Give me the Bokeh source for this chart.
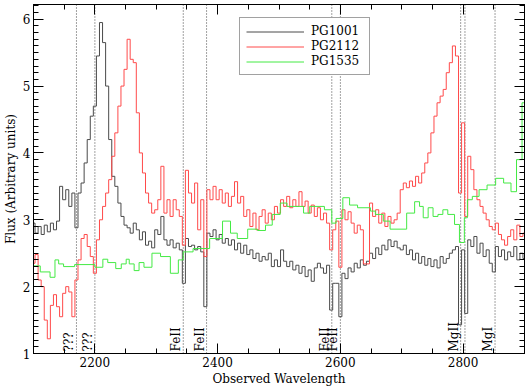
import numpy as np
from bokeh.plotting import figure
from bokeh.models import Range1d, LinearAxis, SingleIntervalTicker, CustomLabelingPolicy
from bokeh.core.properties import value
from bokeh.embed import file_html
from bokeh.resources import INLINE

# ---------------- data ----------------
wave = np.arange(2100, 2901, 5)  # 5 A sampling, 2100..2900

pg1001 = [
    2.95, 2.80, 2.90, 2.78, 2.92, 2.82, 2.95, 2.85, 2.98, 3.50,
    3.30, 3.45, 3.20, 3.40, 2.88, 3.40, 3.55, 3.85, 4.20, 4.55,
    4.70, 5.45, 5.95, 5.65, 5.00, 4.20, 3.65, 3.50, 3.25, 3.05,
    2.92, 2.88, 2.80, 2.95, 2.85, 2.70, 2.82, 2.62, 2.68, 2.58,
    2.85, 2.78, 3.05, 2.70, 2.62, 2.70, 2.58, 2.65, 2.55, 2.05,
    2.72, 2.60, 2.62, 2.55, 2.60, 2.52, 1.70, 2.80, 2.75, 2.85,
    2.70, 2.78, 2.65, 2.72, 2.62, 2.70, 2.55, 2.65, 2.50, 2.62,
    2.48, 2.55, 2.42, 2.50, 2.38, 2.45, 2.40, 2.50, 2.30, 2.40,
    2.30, 2.55, 2.38, 2.30, 2.38, 2.25, 2.32, 2.20, 2.30, 2.15,
    2.25, 2.08, 2.28, 2.35, 2.28, 2.20, 2.32, 1.65, 2.05, 2.05,
    1.55, 2.20, 2.12, 2.28, 2.22, 2.35, 2.28, 2.40, 2.32, 2.38,
    2.50, 2.42, 2.58, 2.48, 2.62, 2.55, 2.70, 2.60, 2.68, 2.58,
    2.55, 2.62, 2.48, 2.55, 2.40, 2.50, 2.35, 2.45, 2.32, 2.42,
    2.30, 2.40, 2.28, 2.45, 2.35, 2.42, 2.50, 2.55, 2.60, 1.43,
    2.55, 1.60, 2.70, 2.60, 2.75, 2.50, 2.65, 2.45, 2.55, 2.35,
    2.22, 2.60, 2.45, 2.55, 2.40, 2.52, 2.45, 2.60, 2.40, 2.50,
    2.42,
]

pg2112 = [
    2.35, 2.48, 2.10, 2.00, 1.50, 1.22, 1.72, 1.88, 1.70, 1.55,
    1.90, 2.00, 1.92, 1.55, 2.10, 2.40, 2.72, 2.78, 2.60, 2.45,
    2.20, 2.70, 3.00, 3.20, 3.40, 3.60, 3.95, 4.30, 4.70, 5.00,
    5.25, 5.70, 5.40, 5.35, 4.60, 4.00, 3.70, 3.40, 3.25, 3.10,
    3.15, 3.30, 3.80, 3.10, 3.30, 3.05, 3.30, 3.15, 3.05, 2.62,
    3.74, 3.40, 3.25, 3.55, 2.85, 3.30, 2.45, 3.45, 3.30, 3.50,
    3.30, 3.45, 3.25, 3.40, 3.20, 3.35, 3.57, 3.25, 3.35, 3.05,
    3.15, 2.90, 3.10, 2.85, 3.05, 3.15, 2.95, 3.10, 3.00, 3.20,
    3.10, 3.30, 3.20, 3.35, 3.18, 3.30, 3.20, 3.42, 3.20, 3.28,
    3.10, 3.22, 3.05, 3.18, 3.00, 3.10, 2.95, 2.55, 2.85, 2.98,
    2.29, 3.15, 3.00, 3.12, 2.95, 2.80, 2.92, 2.85, 2.34, 2.34,
    3.25, 3.05, 3.15, 2.95, 3.10, 2.90, 3.05, 2.95, 3.00, 3.10,
    3.45, 3.55, 3.48, 3.58, 3.50, 3.65, 3.55, 3.70, 3.85, 4.00,
    4.30, 4.55, 4.75, 4.85, 4.95, 5.20, 5.35, 5.60, 5.45, 3.40,
    4.45, 3.05, 3.95, 3.75, 3.45, 3.30, 3.20, 3.10, 3.00, 2.90,
    2.85, 2.95, 2.78, 2.70, 2.62, 2.75, 2.85, 2.70, 2.92, 2.75,
    2.80,
]

pg1535_edges = [2100, 2111, 2127, 2135, 2141, 2149, 2167, 2200, 2213, 2221,
                2234, 2243, 2251, 2256, 2264, 2272, 2280, 2293, 2307, 2323,
                2336, 2344, 2360, 2387, 2408, 2421, 2432, 2449, 2465, 2478,
                2489, 2502, 2513, 2540, 2550, 2574, 2586, 2593, 2604, 2615,
                2628, 2649, 2657, 2670, 2681, 2708, 2721, 2729, 2735, 2743,
                2751, 2759, 2767, 2775, 2786, 2794, 2802, 2807, 2815, 2826,
                2839, 2853, 2866, 2878, 2887, 2896, 2900]
pg1535 = [2.31, 2.22, 2.14, 2.40, 2.34, 2.30, 2.33, 2.29, 2.41, 2.36,
          2.27, 2.34, 2.41, 2.34, 2.24, 2.36, 2.29, 2.50, 2.45, 2.20,
          2.40, 2.52, 2.57, 2.72, 2.98, 2.80, 2.72, 2.86, 2.84, 2.92,
          3.08, 3.25, 3.20, 3.10, 3.20, 3.15, 2.95, 3.02, 3.33, 3.22,
          3.18, 3.13, 3.08, 2.98, 2.86, 3.10, 3.27, 3.20, 3.03, 3.18,
          3.05, 3.08, 3.15, 3.08, 2.93, 2.66, 3.03, 3.30, 3.35, 3.45,
          3.52, 3.62, 3.55, 3.42, 3.90, 4.75]

line_waves = [2170, 2200, 2344, 2382, 2586, 2600, 2796, 2803, 2852]
line_labels = ["???", "???", "FeII", "FeII", "FeII", "FeII", "MgII", "", "MgI"]

X_RANGE = (2100, 2900)
Y_RANGE = (1.0, 6.22)

# ---------------- figure ----------------
FONT = "DejaVu Serif"
p = figure(width=528, height=388, x_range=Range1d(*X_RANGE), y_range=Range1d(*Y_RANGE),
           output_backend="svg", toolbar_location=None,
           min_border_left=1, min_border_right=0, min_border_top=0, min_border_bottom=1)
p.xgrid.visible = False
p.ygrid.visible = False
p.outline_line_color = "black"
p.background_fill_color = "white"

xt = SingleIntervalTicker(interval=200, num_minor_ticks=4)
yt = SingleIntervalTicker(interval=1, num_minor_ticks=10)
p.xaxis.ticker = xt
p.yaxis.ticker = yt

def style_axis(ax, labels=True):
    ax.axis_line_color = "black"
    ax.major_tick_line_color = "black"
    ax.minor_tick_line_color = "black"
    ax.major_tick_in = 10
    ax.major_tick_out = 0
    ax.minor_tick_in = 5
    ax.minor_tick_out = 0
    ax.major_label_text_font = FONT
    ax.major_label_text_color = "black"
    ax.axis_label_text_font = FONT
    ax.axis_label_text_font_style = "normal"
    ax.axis_label_text_color = "black"
    if labels:
        ax.major_label_text_font_size = "12px"
        ax.axis_label_text_font_size = "12px"
        ax.major_label_standoff = 3
        ax.axis_label_standoff = 2
    else:
        ax.major_label_text_font_size = "1px"
        ax.major_label_standoff = 0
        ax.major_label_policy = CustomLabelingPolicy(code="return new Set()")

for ax in p.xaxis + p.yaxis:
    style_axis(ax)
p.xaxis.axis_label = "Observed Wavelength"
p.yaxis.axis_label = "Flux (Arbitrary units)"

top = LinearAxis(ticker=xt)
right = LinearAxis(ticker=yt)
style_axis(top, labels=False)
style_axis(right, labels=False)
p.add_layout(top, "above")
p.add_layout(right, "right")

# dotted line markers
p.segment(x0=line_waves, x1=line_waves, y0=[Y_RANGE[0]] * len(line_waves),
          y1=[Y_RANGE[1]] * len(line_waves), line_color="#444444",
          line_dash="1 2", line_width=1)

# spectra
p.step(wave, pg1001, mode="center", line_color="#4a4a4a", line_width=1, legend_label="PG1001")
p.step(wave, pg2112, mode="center", line_color="#ff4a4a", line_width=1, legend_label="PG2112")
p.step(pg1535_edges, pg1535 + [pg1535[-1]], mode="after", line_color="#44ea44",
       line_width=1, legend_label="PG1535")

# line labels
p.text(x=line_waves, y=[1.03] * len(line_waves), text=line_labels, angle=np.pi / 2,
       text_align="left", text_baseline="bottom", text_font=value(FONT),
       text_font_size="12px", text_color="black")

leg = p.legend[0]
leg.location = (206, 278)
leg.label_text_font = FONT
leg.label_text_font_size = "12px"
leg.label_text_color = "black"
leg.border_line_color = "#444444"
leg.border_line_width = 1
leg.background_fill_alpha = 1.0
leg.padding = 6
leg.spacing = 1
leg.glyph_width = 58
leg.glyph_height = 13
leg.label_height = 13
leg.label_width = 52
leg.label_standoff = 7
leg.margin = 0

open("out.html", "w").write(file_html(p, INLINE))
